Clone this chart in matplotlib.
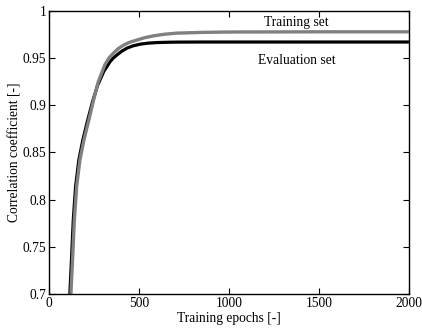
import numpy as np
import matplotlib
matplotlib.use('Agg')
import matplotlib.pyplot as plt
from matplotlib.ticker import FormatStrFormatter

plt.rcParams['font.family'] = ['Liberation Serif', 'DejaVu Serif']
plt.rcParams['font.size'] = 9.75

# training curve (gray)
train_epochs = [122, 131, 141, 154, 172, 194, 221, 246, 274, 311, 333, 357,
                385, 413, 445, 487, 530, 580, 640, 709, 850, 1000, 1500, 2000]
train_corr = [0.700, 0.736, 0.778, 0.814, 0.842, 0.863, 0.884, 0.904, 0.925,
              0.943, 0.950, 0.955, 0.960, 0.9635, 0.9665, 0.969, 0.9715, 0.9735,
              0.9752, 0.9764, 0.9772, 0.9776, 0.9778, 0.9778]

# evaluation curve (black)
eval_epochs = [116, 125, 135, 148, 166, 188, 215, 241, 270, 305, 339, 357,
               376, 400, 432, 465, 506, 550, 598, 650, 709, 850, 1000, 2000]
eval_corr = [0.700, 0.736, 0.778, 0.814, 0.842, 0.863, 0.884, 0.903, 0.921,
             0.936, 0.946, 0.950, 0.953, 0.9567, 0.9604, 0.9628, 0.9647,
             0.9658, 0.9664, 0.9667, 0.9669, 0.967, 0.967, 0.967]

xticks = [0, 500, 1000, 1500, 2000]
yticks = [0.7, 0.75, 0.8, 0.85, 0.9, 0.95, 1.0]

fig = plt.figure(figsize=(4.22, 3.29), dpi=100)
ax = fig.add_axes([0.116, 0.106, 0.853, 0.861])

ax.plot(eval_epochs, eval_corr, color='black', lw=2.3, solid_capstyle='butt',
        solid_joinstyle='round')
ax.plot(train_epochs, train_corr, color='0.5', lw=2.4, solid_capstyle='butt',
        solid_joinstyle='round')

ax.text(1372, 0.988, 'Training set', ha='center', va='center')
ax.text(1378, 0.947, 'Evaluation set', ha='center', va='center')

ax.set_xlim(0, 2000)
ax.set_ylim(0.7, 1.0)
ax.set_xticks(xticks)
ax.set_yticks(yticks)
ax.yaxis.set_major_formatter(FormatStrFormatter('%g'))
ax.tick_params(direction='in', top=True, right=True, length=4, width=0.8, pad=2)
for s in ax.spines.values():
    s.set_linewidth(1.0)

ax.set_xlabel('Training epochs [-]', labelpad=1.5)
ax.set_ylabel('Correlation coefficient [-]', labelpad=1)

fig.savefig('out.png', dpi=100)
